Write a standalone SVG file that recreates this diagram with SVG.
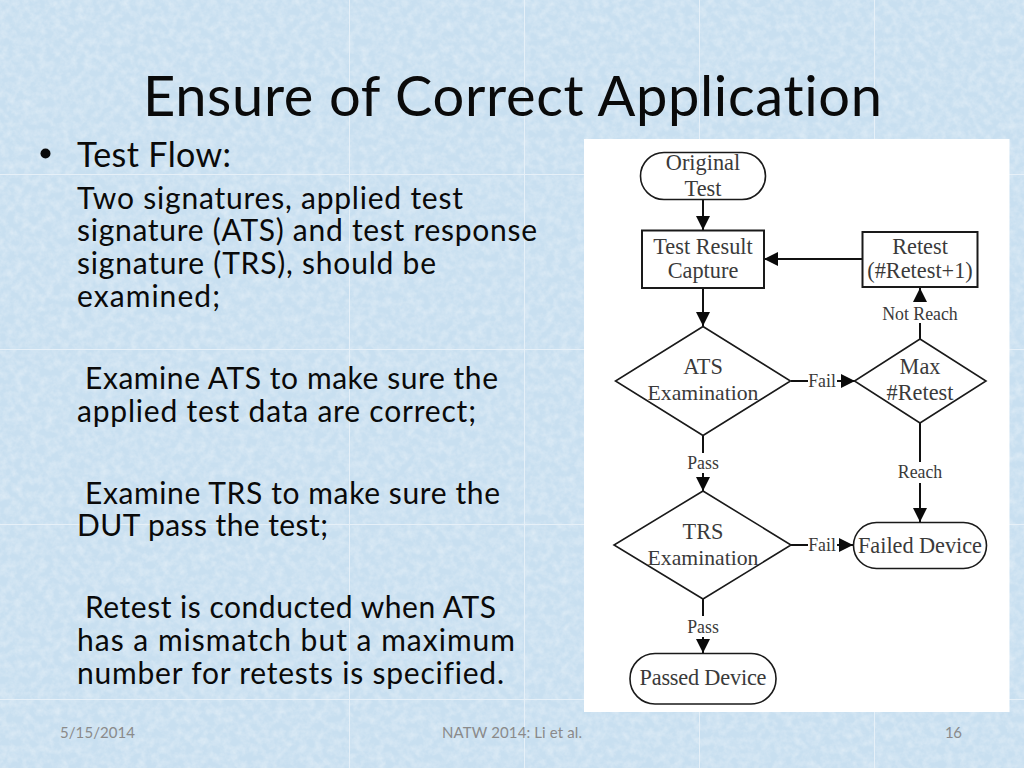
<svg xmlns="http://www.w3.org/2000/svg" width="1024" height="768" viewBox="0 0 1024 768">
<defs>
<style>
.t{font-family:Lato,"Noto Sans",sans-serif;fill:#0a0a0a;font-variant-ligatures:none}
.b{font-size:30px}
.f{font-family:Lato,"Noto Sans",sans-serif;font-size:15px;fill:#8a8a8a}
.n{fill:#fff;stroke:#1a1a1a;stroke-width:1.6}
.r{stroke-width:2}
.l{font-family:"Liberation Serif","Times New Roman",serif;font-size:22.3px;fill:#3a3a3a;text-anchor:middle}
.e{font-size:21.7px}
.s{font-size:17.8px}
.c line{stroke:#111;stroke-width:2;fill:none}
.a{marker-end:url(#h)}
.tile{stroke:#e6f0f8;stroke-width:1;fill:none}
</style>
<marker id="h" markerUnits="userSpaceOnUse" markerWidth="14" markerHeight="14" refX="14" refY="7" orient="auto"><path d="M0 0L14 7L0 14Z" fill="#0a0a0a"/></marker>
<filter id="tex" x="0" y="0" width="100%" height="100%"><feTurbulence type="fractalNoise" baseFrequency="0.13" numOctaves="3" seed="7"/><feColorMatrix values="0 0 0 0 1  0 0 0 0 1  0 0 0 0 1  1.6 0 0 0 -0.55"/></filter>
</defs>
<g id="background">
<rect width="1024" height="768" fill="#c8dff0"/>
<rect width="1024" height="768" filter="url(#tex)" opacity="0.4"/>
<path class="tile" d="M349.500 0V768M524.500 0V768M699.500 0V768M874.500 0V768M0 174.500H1024M0 349.500H1024M0 524.500H1024M0 699.500H1024"/>
<rect x="584" y="139" width="425.500" height="573" fill="#fff"/>
</g>
<text class="t" x="143" y="115.500" font-size="56px" textLength="739" lengthAdjust="spacing">Ensure of Correct Application</text>
<g id="body">
<circle cx="45.500" cy="153.500" r="5" fill="#0a0a0a"/>
<text class="t" font-size="34px" x="77" y="167" textLength="154">Test Flow:</text>
<text class="t b" x="77" y="209" textLength="386">Two signatures, applied test</text>
<text class="t b" x="77" y="241" textLength="460">signature (ATS) and test response</text>
<text class="t b" x="77" y="274" textLength="359">signature (TRS), should be</text>
<text class="t b" x="77" y="307" textLength="143">examined;</text>
<text class="t b" x="85" y="389" textLength="413">Examine ATS to make sure the</text>
<text class="t b" x="77" y="422" textLength="399">applied test data are correct;</text>
<text class="t b" x="85" y="504" textLength="415">Examine TRS to make sure the</text>
<text class="t b" x="77" y="536" textLength="251">DUT pass the test;</text>
<text class="t b" x="85" y="618" textLength="411">Retest is conducted when ATS</text>
<text class="t b" x="77" y="651" textLength="438">has a mismatch but a maximum</text>
<text class="t b" x="77" y="684" textLength="427">number for retests is specified.</text>
</g>
<g id="footer">
<text class="f" x="60" y="738" textLength="75">5/15/2014</text>
<text class="f" x="442" y="738" textLength="140">NATW 2014: Li et al.</text>
<text class="f" x="945" y="738" textLength="17">16</text>
</g>
<g id="connectors" class="c">
<line class="a" x1="703" y1="199" x2="703" y2="230"/>
<line class="a" x1="703" y1="288" x2="703" y2="326"/>
<line class="a" x1="862" y1="259" x2="764" y2="259"/>
<line x1="920" y1="339" x2="920" y2="323"/>
<line class="a" x1="920" y1="302" x2="920" y2="288"/>
<line x1="791" y1="381" x2="808" y2="381"/>
<line class="a" x1="837" y1="381" x2="855" y2="381"/>
<line x1="703" y1="436" x2="703" y2="453"/>
<line class="a" x1="703" y1="473" x2="703" y2="491"/>
<line x1="920" y1="423" x2="920" y2="462"/>
<line class="a" x1="920" y1="483" x2="920" y2="522"/>
<line x1="791" y1="545" x2="808" y2="545"/>
<line class="a" x1="837" y1="545" x2="853" y2="545"/>
<line x1="703" y1="599" x2="703" y2="616"/>
<line class="a" x1="703" y1="637" x2="703" y2="653"/>
</g>
<g id="original-test"><rect class="n" x="640.500" y="152.500" width="125" height="47" rx="23.500"/><text class="l" x="703" y="170">Original</text><text class="l" x="703" y="196">Test</text></g>
<g id="test-result"><rect class="n r" x="642" y="230.500" width="122" height="57.500"/><text class="l" x="703" y="254">Test Result</text><text class="l" x="703" y="278">Capture</text></g>
<g id="retest"><rect class="n r" x="862.500" y="232" width="115" height="55"/><text class="l" x="920" y="254">Retest</text><text class="l" x="920" y="278">(#Retest+1)</text></g>
<g id="ats"><path class="n" d="M703 326.500L790.500 381L703 435.500L615.500 381Z"/><text class="l" x="703" y="374">ATS</text><text class="l e" x="703" y="400">Examination</text></g>
<g id="max"><path class="n" d="M920 339L986 381L920 423L854.500 381Z"/><text class="l" x="920" y="374">Max</text><text class="l" x="920" y="400">#Retest</text></g>
<g id="trs"><path class="n" d="M703 491L791 545L703 599L614 545Z"/><text class="l" x="703" y="539">TRS</text><text class="l e" x="703" y="565">Examination</text></g>
<g id="failed"><rect class="n" x="853.500" y="522.500" width="133" height="46" rx="23"/><text class="l" x="920" y="553" textLength="124">Failed Device</text></g>
<g id="passed"><rect class="n" x="630" y="653.500" width="146" height="50.500" rx="25"/><text class="l" x="703" y="685" textLength="127">Passed Device</text></g>
<g id="labels">
<text class="l s" x="920" y="319.500">Not Reach</text>
<text class="l s" x="822" y="386.500">Fail</text>
<text class="l s" x="703" y="468.500">Pass</text>
<text class="l s" x="920" y="477.500">Reach</text>
<text class="l s" x="822" y="550.500">Fail</text>
<text class="l s" x="703" y="632.500">Pass</text>
</g>
</svg>
